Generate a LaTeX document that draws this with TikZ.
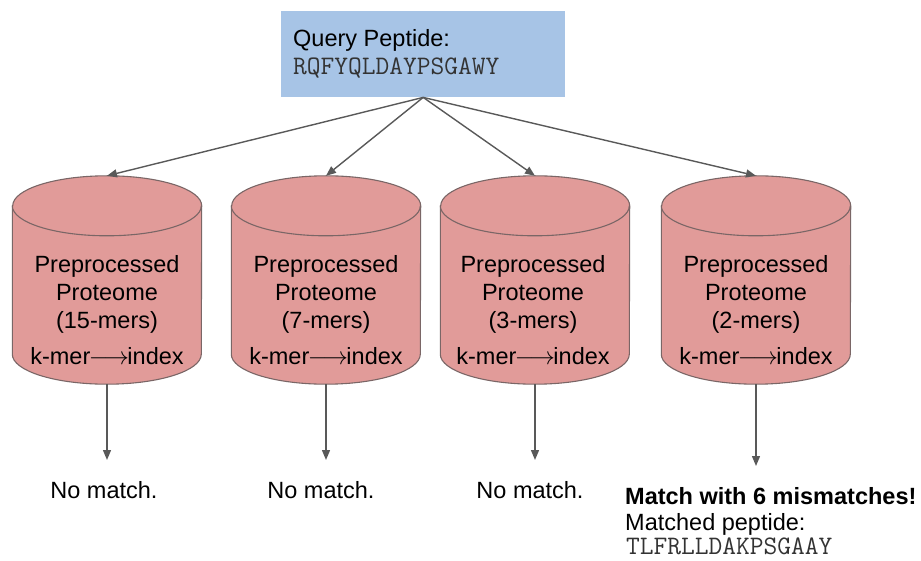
\documentclass[tikz,border=0pt]{standalone}
\usepackage{fontspec}
\setmainfont{Liberation Sans}
\usetikzlibrary{arrows.meta,calc}

\definecolor{qblue}{HTML}{A7C4E6}
\definecolor{cylred}{HTML}{E19B99}
\definecolor{cylborder}{HTML}{7A6666}
\definecolor{conngray}{HTML}{595959}

% cylinder outline drawn around an invisible frame node
\newcommand\drawcyl[1]{%
  \path[cylshape] ($(#1.north west)+(0,-30)$) -- ($(#1.south west)+(0,30)$)
    arc[start angle=180,end angle=360,x radius=94.5,y radius=30]
    -- ($(#1.north east)+(0,-30)$)
    arc[start angle=0,end angle=180,x radius=94.5,y radius=30] -- cycle;
  \draw[cylborder,line width=1.1pt] ($(#1.north west)+(0,-30)$)
    arc[start angle=180,end angle=360,x radius=94.5,y radius=30];
}
\newcommand\kmerline{k-mer\kern-1.5pt$\longrightarrow$\kern-1.5pt index}

\tikzset{
  qbox/.style={fill=qblue, minimum width=284, minimum height=86, inner sep=0, anchor=north west},
  txt/.style={font=\fontsize{23.5}{28}\selectfont, inner sep=0, text=black},
  mono/.style={font=\fontsize{26.7}{28}\selectfont\ttfamily, inner sep=0, text=black!80},
  cylframe/.style={minimum width=189, minimum height=208, inner sep=0},
  cylshape/.style={fill=cylred, draw=cylborder, line width=1.1pt},
  cyltext/.style={txt, align=center},
  conn/.style={draw=conngray, line width=1.4pt, -{Triangle[length=10pt,width=8pt]}},
}

\begin{document}
\begin{tikzpicture}[x=1pt,y=1pt]
\path[use as bounding box] (0,0) rectangle (921,-561);

% query box
\node[qbox] (q) at (281,-11) {};
\node[txt, anchor=base west] (qlabel) at (293,-46.5) {Query Peptide:};
\node[mono, anchor=base west] (qseq) at (293,-75) {RQFYQLDAYPSGAWY};

% cylinder frames
\node[cylframe] (c1) at (107,-280) {};
\node[cylframe] (c2) at (326,-280) {};
\node[cylframe] (c3) at (535,-280) {};
\node[cylframe] (c4) at (756,-280) {};
\drawcyl{c1}
\drawcyl{c2}
\drawcyl{c3}
\drawcyl{c4}

% cylinder labels
\node[cyltext] (t1) at (107,-310) {Preprocessed\\Proteome\\(15-mers)\\[8pt]\kmerline};
\node[cyltext] (t2) at (326,-310) {Preprocessed\\Proteome\\(7-mers)\\[8pt]\kmerline};
\node[cyltext] (t3) at (533,-310) {Preprocessed\\Proteome\\(3-mers)\\[8pt]\kmerline};
\node[cyltext] (t4) at (756,-310) {Preprocessed\\Proteome\\(2-mers)\\[8pt]\kmerline};

% query fans out to each index
\draw[conn] (q.south) -- (c1.north);
\draw[conn] (q.south) -- (c2.north);
\draw[conn] (q.south) -- (c3.north);
\draw[conn] (q.south) -- (c4.north);

% results
\coordinate (e1) at (107,-460);
\coordinate (e2) at (326,-460);
\coordinate (e3) at (535,-460);
\coordinate (e4) at (756,-466);
\draw[conn] (c1.south) -- (e1);
\draw[conn] (c2.south) -- (e2);
\draw[conn] (c3.south) -- (e3);
\draw[conn] (c4.south) -- (e4);

\node[txt, anchor=base] (r1) at (104,-498.5) {No match.};
\node[txt, anchor=base] (r2) at (321,-498.5) {No match.};
\node[txt, anchor=base] (r3) at (530,-498.5) {No match.};
\node[txt, anchor=base west, font=\fontsize{23.5}{28}\selectfont\bfseries] (r4) at (625,-504) {Match with 6 mismatches!};
\node[txt, anchor=base west] (r4b) at (625,-530) {Matched peptide:};
\node[mono, anchor=base west] (r4c) at (626,-554) {TLFRLLDAKPSGAAY};
\end{tikzpicture}
\end{document}
